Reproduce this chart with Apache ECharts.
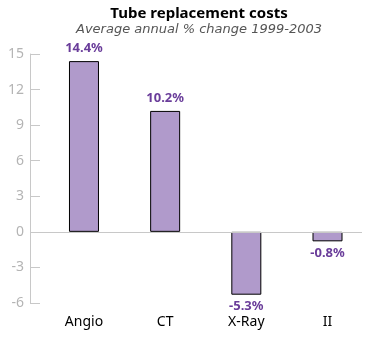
<!DOCTYPE html>
<html><head><meta charset="utf-8">
<script src="https://cdn.jsdelivr.net/npm/echarts@6/dist/echarts.min.js"></script>
<style>html,body{margin:0;padding:0;background:#fff}#c{width:367px;height:337px}</style>
</head><body><div id="c"></div>
<script>
var categories = ['Angio', 'CT', 'X-Ray', 'II'];
var values = [14.4, 10.2, -5.3, -0.8];
var yTicks = [-6, -3, 0, 3, 6, 9, 12, 15];

var chart = echarts.init(document.getElementById('c'));
var font = '"Noto Sans", "Open Sans", sans-serif';
chart.setOption({
  animation: false,
  title: {
    text: 'Tube replacement costs',
    subtext: 'Average annual % change 1999-2003',
    left: 194, top: 1, textAlign: 'center', itemGap: 2,
    textStyle: {fontFamily: font, fontSize: 15, fontWeight: 'bold', color: '#000'},
    subtextStyle: {fontFamily: '"DejaVu Sans", sans-serif', fontSize: 13, fontStyle: 'italic', color: '#555'}
  },
  grid: {left: 30, right: 5, top: 54, bottom: 34},
  xAxis: {
    type: 'value', min: -0.665, max: 3.425,
    splitLine: {show: false}, axisTick: {show: false},
    axisLine: {show: false, onZero: false},
    axisLabel: {
      fontFamily: font, fontSize: 14, color: '#000', margin: 12,
      customValues: [0, 1, 2, 3],
      formatter: function (v) { return categories[Math.round(v)] || ''; }
    }
  },
  yAxis: {
    type: 'value', min: yTicks[0], max: yTicks[yTicks.length - 1], interval: 3,
    splitLine: {show: false},
    axisLine: {show: true, onZero: false, lineStyle: {color: '#c8c8c8'}},
    axisTick: {show: true, inside: true, length: 10, lineStyle: {color: '#c8c8c8'}},
    axisLabel: {fontFamily: font, fontSize: 14, color: '#b4b4b4', margin: 6}
  },
  series: [{
    type: 'bar',
    barWidth: 30,
    data: values.map(function (v, i) {
      return {value: [i, v], label: {position: v < 0 ? 'bottom' : 'top', distance: v < 0 ? 5 : 6}};
    }),
    itemStyle: {color: '#b09acb', borderColor: '#000', borderWidth: 1},
    label: {
      show: true, fontFamily: font, fontSize: 13, fontWeight: 'bold', color: '#6a3d9a',
      formatter: function (p) { return p.value[1].toFixed(1) + '%'; }
    },
    markLine: {
      silent: true, symbol: 'none', label: {show: false},
      lineStyle: {color: '#c8c8c8', type: 'solid', width: 1},
      data: [{yAxis: 0}]
    }
  }]
});
</script></body></html>
